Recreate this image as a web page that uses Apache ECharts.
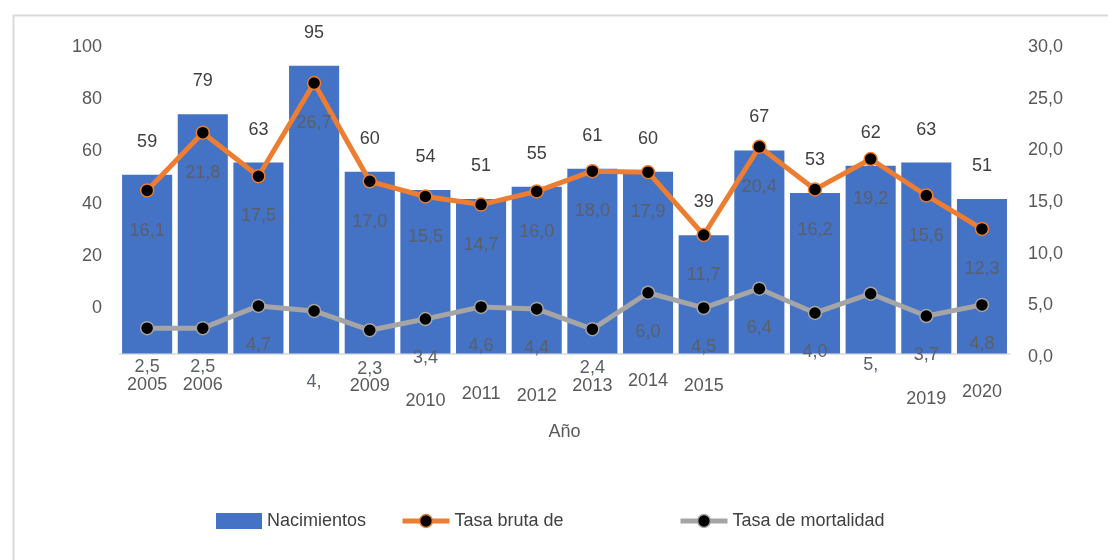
<!DOCTYPE html>
<html>
<head>
<meta charset="utf-8">
<script src="https://cdn.jsdelivr.net/npm/echarts@6/dist/echarts.min.js"></script>
<style>html,body{margin:0;padding:0;background:#fff;}#c{width:1108px;height:560px;}</style>
</head>
<body>
<div id="c"></div>
<script>
// ---- data ----
const years = ['2005','2006','2007','2008','2009','2010','2011','2012','2013','2014','2015','2016','2017','2018','2019','2020'];
const nacimientos = [59, 79, 63, 95, 60, 54, 51, 55, 61, 60, 39, 67, 53, 62, 63, 51];
const tasaNatalidad = [16.1, 21.8, 17.5, 26.7, 17.0, 15.5, 14.7, 16.0, 18.0, 17.9, 11.7, 20.4, 16.2, 19.2, 15.6, 12.3];
const tasaMortalidad = [2.5, 2.5, 4.7, 4.2, 2.3, 3.4, 4.6, 4.4, 2.4, 6.0, 4.5, 6.4, 4.0, 5.9, 3.7, 4.8];
const leftTicks = [0, 20, 40, 60, 80, 100];
const rightTicks = [0, 5, 10, 15, 20, 25, 30];

// ---- styling helpers (kept apart from data) ----
const FONT = '"Liberation Sans", sans-serif';
const FS = 18;
const hiddenYears = ['2007', '2008', '2016', '2017', '2018'];
const yearShift = {'2005':4,'2006':4,'2009':5,'2010':20,'2011':13,'2012':15,'2013':5,'2014':0,'2015':5,'2019':18,'2020':11};
const cutLabels = [3, 13];
const fmt = v => v.toFixed(1).replace('.', ',');
const rich = {};
Object.values(yearShift).forEach(s => { rich['s' + s] = {padding: [s, 0, 0, 0], fontSize: FS, fontFamily: FONT, color: '#595959'}; });

const mortData = tasaMortalidad.map((v, i) => cutLabels.includes(i) ? {value: v, label: {offset: [0, 32]}} : v);

const chart = echarts.init(document.getElementById('c'), null, {renderer: 'canvas'});
chart.setOption({
  animation: false,
  backgroundColor: '#ffffff',
  textStyle: {fontFamily: FONT},
  graphic: [{
    type: 'rect', left: 11, top: 13, silent: true, z: -10,
    shape: {width: 1200, height: 600},
    style: {fill: 'none', stroke: '#d9d9d9', lineWidth: 2}
  }],
  grid: [
    {left: 119.3, right: 98.2, top: 49.6, height: 303.9},
    {left: 110, right: 90, top: 47, height: 261},
    {left: 110, right: 90, top: 47, height: 310}
  ],
  legend: [
    {data: [{name: 'Nacimientos', icon: 'rect'}], left: 211, top: 507, itemWidth: 46, itemHeight: 16,
     textStyle: {fontSize: FS, color: '#404040', fontFamily: FONT}},
    {data: ['Tasa bruta de'], left: 395, top: 507, itemWidth: 47, itemHeight: 16,
     lineStyle: {width: 5}, itemStyle: {borderWidth: 1.5},
     textStyle: {fontSize: FS, color: '#404040', fontFamily: FONT}},
    {data: ['Tasa de mortalidad'], left: 673, top: 507, itemWidth: 47, itemHeight: 16,
     lineStyle: {width: 5}, itemStyle: {borderWidth: 1.5},
     textStyle: {fontSize: FS, color: '#404040', fontFamily: FONT}}
  ],
  xAxis: [
    {type: 'category', gridIndex: 0, data: years,
     name: 'Año', nameLocation: 'middle', nameGap: 70,
     nameTextStyle: {fontSize: FS, color: '#595959', fontFamily: FONT},
     axisLine: {lineStyle: {color: '#d9d9d9', width: 1.5}},
     axisTick: {show: false},
     axisLabel: {interval: 0, margin: 19, rich: rich,
       formatter: v => hiddenYears.includes(v) ? '' : '{s' + yearShift[v] + '|' + v + '}'}},
    {type: 'category', gridIndex: 1, data: years, show: false},
    {type: 'category', gridIndex: 2, data: years, show: false}
  ],
  yAxis: [
    {type: 'value', gridIndex: 0, min: 0, max: 100.3, show: false},
    {type: 'value', gridIndex: 0, min: 0, max: 30, show: false},
    {type: 'value', gridIndex: 1, min: leftTicks[0], max: leftTicks[leftTicks.length - 1], interval: 20,
     axisLine: {show: false}, axisTick: {show: false}, splitLine: {show: false},
     axisLabel: {fontSize: FS, color: '#595959', margin: 8, fontFamily: FONT}},
    {type: 'value', gridIndex: 2, position: 'right', min: rightTicks[0], max: rightTicks[rightTicks.length - 1], interval: 5,
     axisLine: {show: false}, axisTick: {show: false}, splitLine: {show: false},
     axisLabel: {fontSize: FS, color: '#595959', margin: 10, fontFamily: FONT, formatter: v => fmt(v)}}
  ],
  series: [
    {name: 'Nacimientos', type: 'bar', xAxisIndex: 0, yAxisIndex: 0, data: nacimientos,
     barCategoryGap: '10%',
     itemStyle: {color: '#4472C4'},
     label: {show: true, position: 'top', distance: 24, fontSize: FS, color: '#404040', fontFamily: FONT}},
    {name: 'Tasa bruta de', type: 'line', xAxisIndex: 0, yAxisIndex: 1, data: tasaNatalidad,
     lineStyle: {color: '#ED7D31', width: 5},
     itemStyle: {color: '#000000', borderColor: '#ED7D31', borderWidth: 1.5},
     symbol: 'circle', symbolSize: 13,
     label: {show: true, position: 'bottom', distance: 24, fontSize: FS, color: '#5b5f6a', fontFamily: FONT,
       formatter: p => fmt(p.value)}},
    {name: 'Tasa de mortalidad', type: 'line', xAxisIndex: 0, yAxisIndex: 1, data: mortData,
     lineStyle: {color: '#A5A5A5', width: 5},
     itemStyle: {color: '#000000', borderColor: '#A5A5A5', borderWidth: 1.5},
     symbol: 'circle', symbolSize: 13,
     label: {show: true, position: 'bottom', distance: 23, fontSize: FS, color: '#5b5f6a', fontFamily: FONT,
       formatter: p => cutLabels.includes(p.dataIndex) ? Math.floor(p.value) + ',' : fmt(p.value)}}
  ]
});
</script>
</body>
</html>
